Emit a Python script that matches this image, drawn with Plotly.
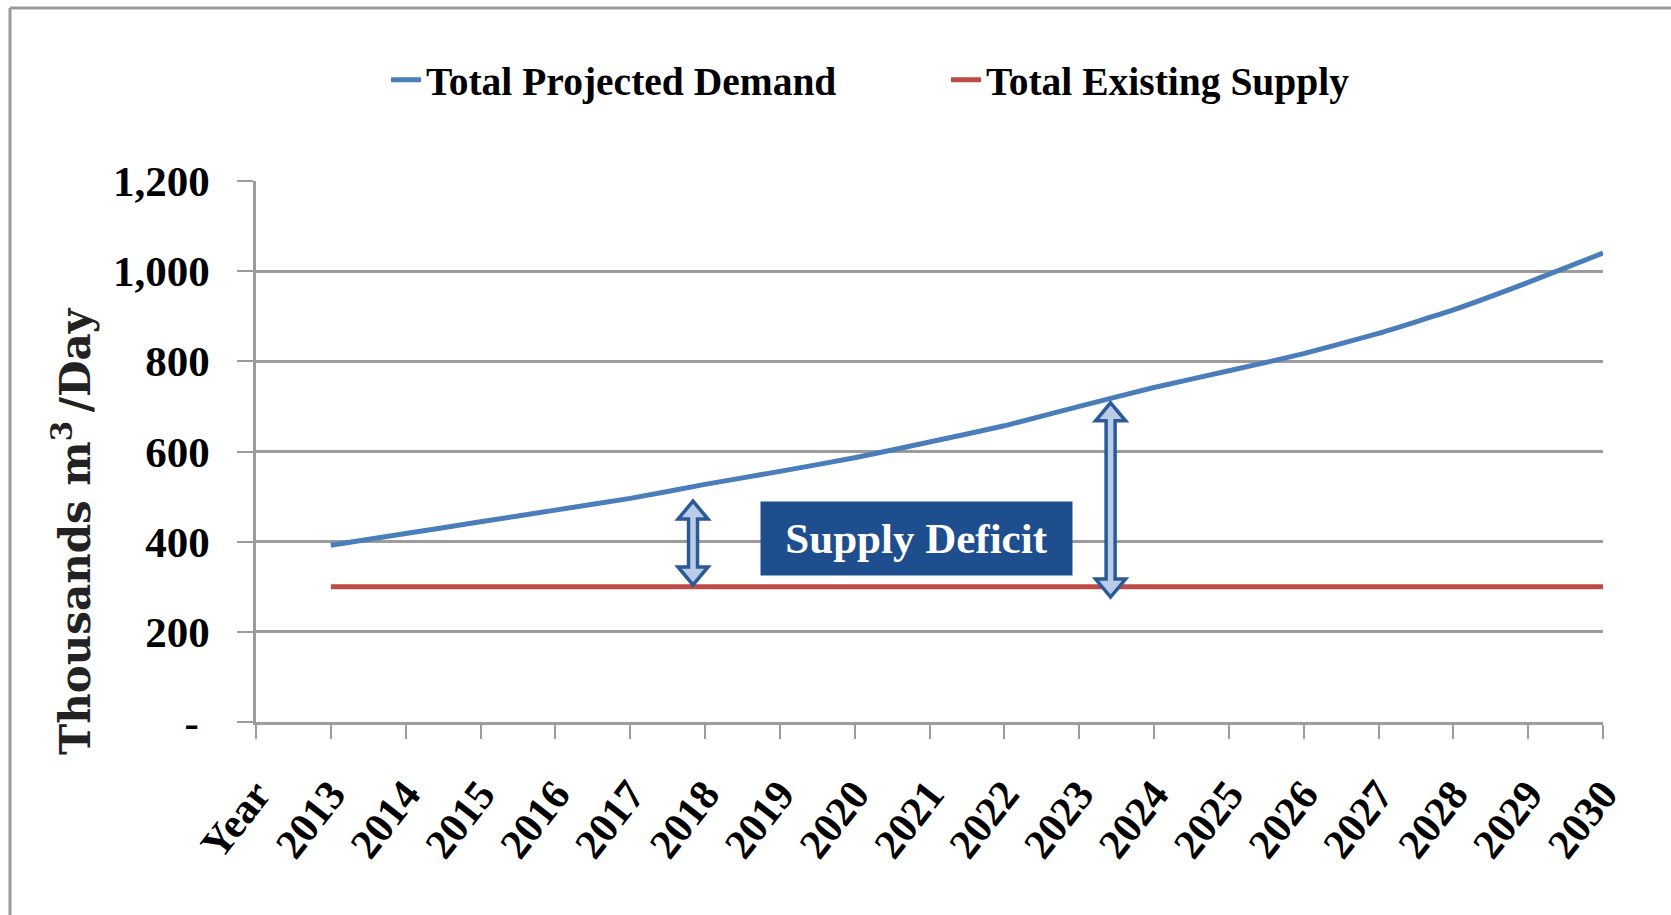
import plotly.graph_objects as go

# ---------------- data ----------------
categories = ["Year", "2013", "2014", "2015", "2016", "2017", "2018", "2019", "2020",
              "2021", "2022", "2023", "2024", "2025", "2026", "2027", "2028", "2029", "2030"]
years = categories[1:]
demand = [392, 418, 444, 470, 496, 527, 556, 586, 621, 657, 700, 742, 779, 817, 862, 914, 975, 1040]
supply = [300, 300, 300, 300, 300, 300, 300, 300, 300, 300, 300, 300, 300, 300, 300, 300, 300, 300]
y_tickvals = [0, 200, 400, 600, 800, 1000, 1200]
y_ticktext = ["-\u00a0", "200", "400", "600", "800", "1,000", "1,200"]

# annotation anchors (data units: category index, value)
deficit_label = (8.82, 408)
arrow_small = (5.84, 490, 304)
arrow_big = (11.42, 708, 277)

# ---------------- layout geometry ----------------
W, H = 1671, 915
ML, MR, MT, MB = 256, 68, 181, 193
PW, PH = W - ML - MR, H - MT - MB
X_RANGE = [0, len(categories) - 1]
Y_RANGE = [0, 1200]
px_per_x = PW / (X_RANGE[1] - X_RANGE[0])
px_per_y = PH / (Y_RANGE[1] - Y_RANGE[0])

def paper_x(px):
    return (px - ML) / PW

def paper_y(py):
    return (H - MB - py) / PH

BLUE = "#4a7ebb"
RED = "#be4b48"
GRID = "#9c9c9c"
DARK = "#1f4e8f"
SERIF = "Liberation Serif"

fig = go.Figure()
fig.add_trace(go.Scatter(x=years, y=demand, mode="lines", name="Total Projected Demand",
                         line=dict(color=BLUE, width=5, shape="spline", smoothing=0.4)))
fig.add_trace(go.Scatter(x=years, y=supply, mode="lines", name="Total Existing Supply",
                         line=dict(color=RED, width=5)))

def double_arrow(xc, ytop, ybot, hw=15, hh=18, sw=4.5):
    dx_h = hw / px_per_x
    dx_s = sw / px_per_x
    dy = hh / px_per_y
    pts = [(xc, ytop), (xc + dx_h, ytop - dy), (xc + dx_s, ytop - dy), (xc + dx_s, ybot + dy),
           (xc + dx_h, ybot + dy), (xc, ybot), (xc - dx_h, ybot + dy), (xc - dx_s, ybot + dy),
           (xc - dx_s, ytop - dy), (xc - dx_h, ytop - dy)]
    path = "M " + " L ".join(f"{a:.4f},{b:.3f}" for a, b in pts) + " Z"
    return dict(type="path", xref="x", yref="y", path=path, fillcolor="#b9cde8",
                line=dict(color="#2c5a98", width=3.5), layer="above")

shapes = [
    double_arrow(*arrow_small),
    double_arrow(*arrow_big),
    # outer frame (top and left edges)
    dict(type="line", xref="paper", yref="paper", x0=paper_x(10), x1=paper_x(W), y0=paper_y(8), y1=paper_y(8),
         line=dict(color="#9a9a9a", width=3)),
    dict(type="line", xref="paper", yref="paper", x0=paper_x(10), x1=paper_x(10), y0=paper_y(8), y1=paper_y(H),
         line=dict(color="#9a9a9a", width=3)),
]

annotations = [
    dict(x=deficit_label[0], y=deficit_label[1], xref="x", yref="y", text="Supply Deficit",
         showarrow=False, bgcolor=DARK, width=305, height=67, borderpad=3,
         font=dict(family=SERIF, size=43, color="white", weight="bold")),
    dict(x=paper_x(72), y=paper_y(531), xref="paper", yref="paper",
         text="Thousands m<sup>3</sup>\u2009/Day", textangle=-90, showarrow=False,
         xanchor="center", yanchor="middle",
         font=dict(family="DejaVu Serif", size=42, color="#222222", weight="bold")),
]

fig.update_layout(
    width=W, height=H,
    margin=dict(l=ML, r=MR, t=MT, b=MB),
    paper_bgcolor="white", plot_bgcolor="white",
    showlegend=True,
    legend=dict(orientation="h", xref="container", yref="container",
                x=386 / W, y=1 - 80 / H, xanchor="left", yanchor="middle",
                font=dict(family=SERIF, size=39.5, color="black", weight="bold"),
                entrywidth=515, entrywidthmode="pixels", bgcolor="rgba(0,0,0,0)"),
    xaxis=dict(type="category", categoryorder="array", categoryarray=categories,
               range=X_RANGE, showgrid=False, showline=True, linecolor=GRID, linewidth=2.5,
               ticks="outside", ticklen=14, tickcolor=GRID, tickwidth=2,
               tickmode="array", tickvals=categories, ticktext=categories,
               tickangle=-52, ticklabelstandoff=14,
               tickfont=dict(family=SERIF, size=42, color="black", weight="bold")),
    yaxis=dict(range=Y_RANGE, tickmode="array", tickvals=y_tickvals, ticktext=y_ticktext,
               showgrid=True, gridcolor=GRID, gridwidth=2.5, showline=True, linecolor=GRID, linewidth=2.5,
               ticks="outside", ticklen=16, tickcolor=GRID, tickwidth=2, zeroline=False,
               ticklabelstandoff=19,
               tickfont=dict(family=SERIF, size=43, color="black", weight="bold")),
    shapes=shapes,
    annotations=annotations,
)

fig.write_html("out.html", config={"displayModeBar": False},
               post_script="document.body.style.margin='0px';")
